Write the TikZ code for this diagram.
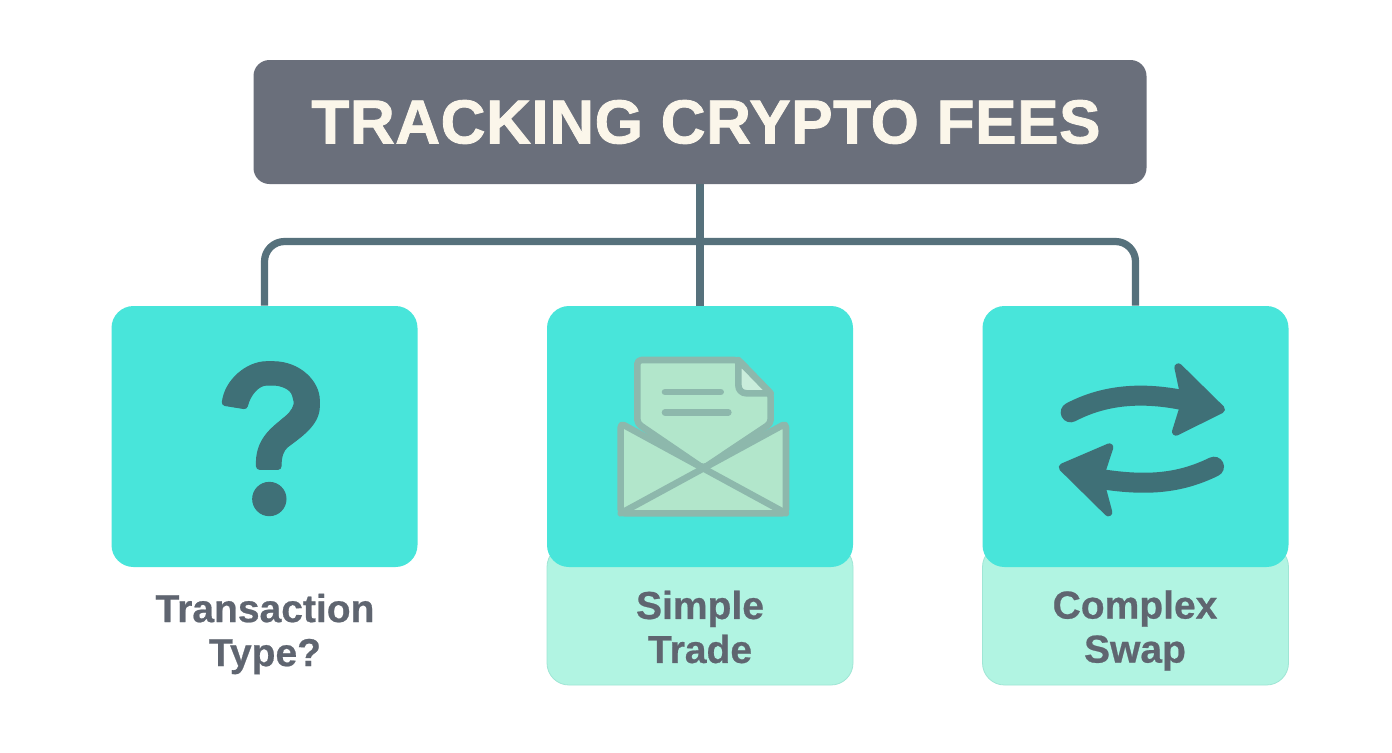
\documentclass[tikz,border=0pt]{standalone}
\usepackage{fontspec}
\setmainfont{Liberation Sans}
\definecolor{titlebg}{HTML}{6A6F7B}
\definecolor{titletx}{HTML}{FBF6EA}
\definecolor{teal}{HTML}{48E5DA}
\definecolor{mint}{HTML}{B1F4E2}
\definecolor{mintline}{HTML}{9FE6D5}
\definecolor{wire}{HTML}{56717C}
\definecolor{labeltx}{HTML}{5F6570}
\definecolor{icondark}{HTML}{3F7077}
\definecolor{envline}{HTML}{8DB8AC}
\definecolor{envfill}{HTML}{B2E6CB}
\tikzset{
 titlebox/.style={fill=titlebg,rounded corners=8pt,minimum width=446.5pt,minimum height=62pt,inner sep=0pt,text=titletx,font=\fontsize{31}{36}\selectfont\bfseries},
 tealbox/.style={fill=teal,rounded corners=11pt,minimum width=153pt,minimum height=130.5pt,inner sep=0pt},
 mintbox/.style={fill=mint,draw=mintline,line width=.4pt,rounded corners=11pt,minimum width=153pt,minimum height=70pt,inner sep=0pt},
 caption/.style={text=labeltx,align=center,font=\fontsize{19.5}{22}\selectfont\bfseries\addfontfeature{FakeBold=0.6},inner sep=0pt},
 wireline/.style={draw=wire,line width=3.6pt},
 icon/.style={fill=icondark,draw=icondark,line width=.5pt},
 iconstroke/.style={draw=icondark,line width=10pt,line cap=round},
 iconhead/.style={fill=icondark,draw=icondark,line width=4pt,line join=round},
 envshape/.style={fill=envfill,draw=envline,line width=3.3pt,line join=round},
 envrule/.style={draw=envline,line width=3.3pt,line cap=round},
 zoomed/.style={x=0.16667pt,y=-0.16667pt}
}
\begin{document}
\begin{tikzpicture}[x=0.5pt,y=-0.5pt]
\useasboundingbox (0,0) rectangle (1392,752);
\fill[white] (0,0) rectangle (1392,752);
\node[titlebox] (title) at (700,122) {\hspace*{6pt}\addfontfeature{LetterSpace=1.0,FakeBold=1.4}TRACKING CRYPTO FEES};
\node[mintbox] (lower2) at (700,615) {};
\node[mintbox] (lower3) at (1135.5,615) {};
\node[tealbox] (box1) at (264.5,436.5) {};
\node[tealbox] (box2) at (700,436.5) {};
\node[tealbox] (box3) at (1135.5,436.5) {};
\coordinate (hub) at (700,241.5);
\draw[wireline] (title.south) -- (box2.north);
\draw[wireline,rounded corners=10pt] (box1.north) -- (box1.north |- hub) -- (box3.north |- hub) -- (box3.north);
\node[caption] (cap1) at (265,634) {Transaction\\Type?};
\node[caption] (cap2) at (700,627) {Simple\\Trade};
\node[caption] (cap3) at (1135,630.5) {Complex\\Swap};
% question mark
\begin{scope}[shift={(200,340)},zoomed]
\path[icon,rounded corners=1.5pt] (66,195) .. controls (75,120) and (140,65) .. (210,65) .. controls (300,65) and (358,125) .. (358,190) .. controls (358,250) and (310,285) .. (270,315) .. controls (250,330) and (243,350) .. (243,388) -- (170,388) .. controls (165,300) and (215,265) .. (250,235) .. controls (275,215) and (285,195) .. (280,175) .. controls (272,145) and (240,135) .. (210,135) .. controls (175,135) and (150,165) .. (140,207) -- cycle;
\path[icon] (208,477) circle [radius=50];
\end{scope}
% envelope
\begin{scope}[shift={(600,340)},zoomed]
\path[envshape,rounded corners=2pt] (112,250) -- (112,60) -- (415,60) -- (512,160) -- (512,250) -- (310,385) -- cycle;
\fill[envfill!70!white,draw=envline,line width=3.3pt,line join=round] (415,60) -- (415,135) .. controls (415,150) and (425,160) .. (440,160) -- (512,160) -- cycle;
\draw[envrule] (195,156) -- (362,156);
\draw[envrule] (195,217) -- (385,217);
\path[envshape,rounded corners=2pt] (62,250) -- (310,385) -- (558,250) -- (558,520) -- (62,520) -- cycle;
\draw[envrule] (62,520) -- (310,385) -- (558,520);
\end{scope}
% swap arrows
\begin{scope}[shift={(1040,350)},zoomed]
\draw[iconstroke] (92,187) .. controls (200,130) and (320,125) .. (450,155);
\path[iconhead] (415,52) -- (543,178) -- (408,245) -- (432,168) -- (432,132) -- cycle;
\draw[iconstroke] (522,350) .. controls (420,400) and (320,410) .. (170,385);
\path[iconhead] (208,292) -- (68,352) -- (205,487) -- (185,412) -- (185,362) -- cycle;
\end{scope}
\end{tikzpicture}
\end{document}
